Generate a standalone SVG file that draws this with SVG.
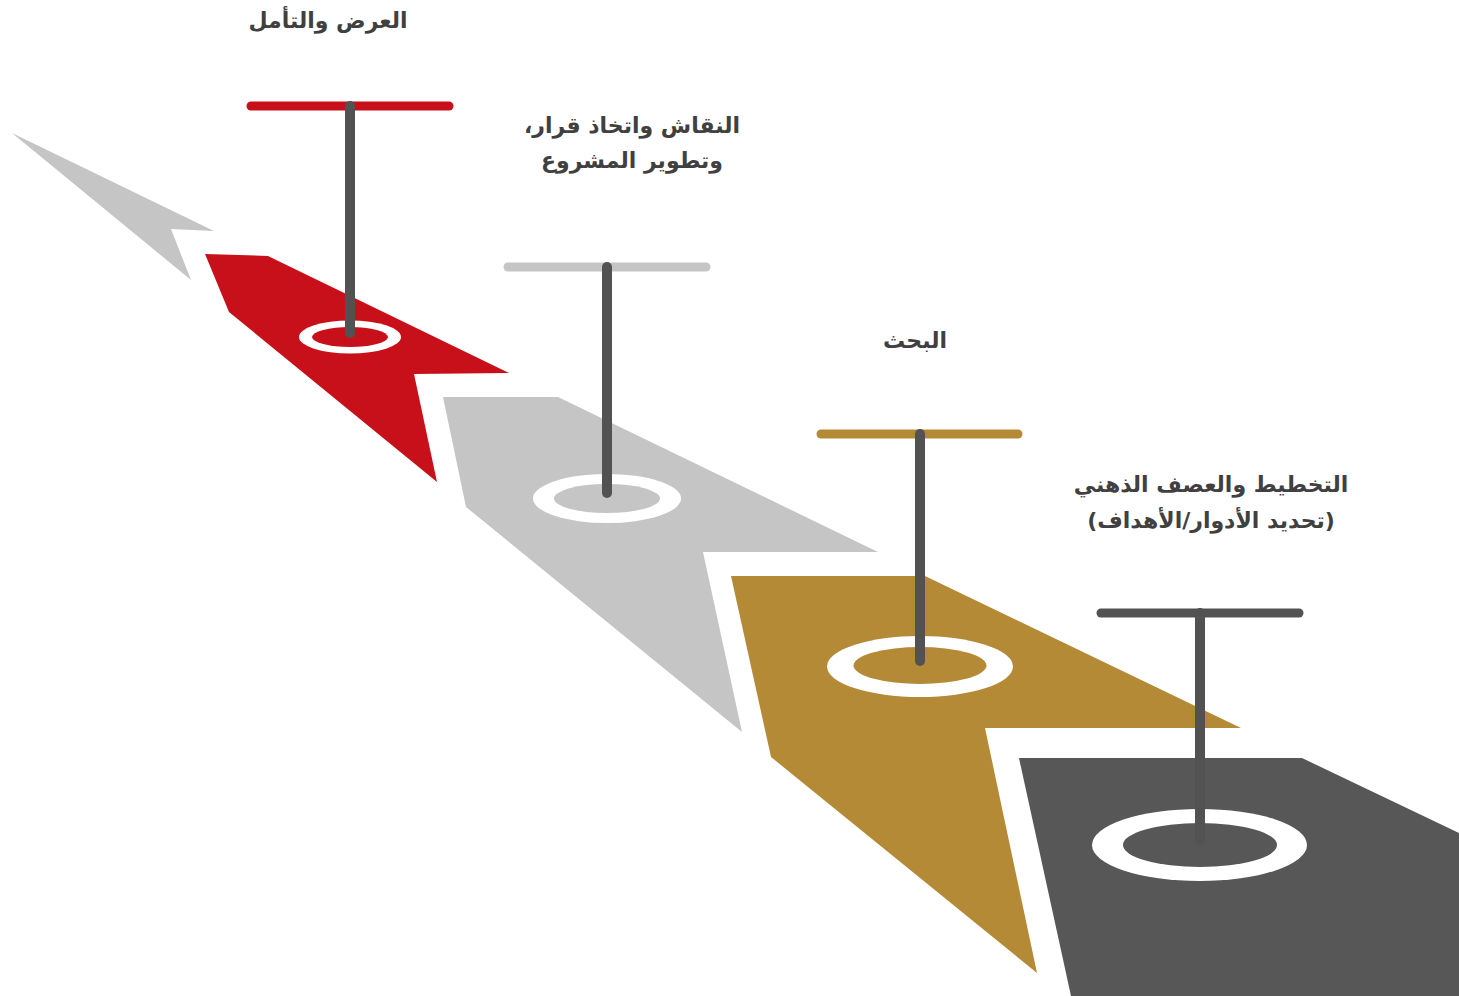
<svg xmlns="http://www.w3.org/2000/svg" width="1459" height="996" viewBox="0 0 1459 996">
<style>
.bar{stroke-width:9;stroke-linecap:round;fill:none}
.pole{stroke:#525252;stroke-width:10;stroke-linecap:round;fill:none}
.ring{fill:#fff}
.lbl{font-family:"DejaVu Sans","Noto Sans",sans-serif;font-weight:bold;font-size:22px;fill:#404040;text-anchor:middle}
</style>
<rect width="1459" height="996" fill="#fff"/>
<g id="tail">
<polygon points="12,133 214,231 171,229 191,280" fill="#c5c5c5"/>
</g>
<g id="step4">
<polygon points="205,254 268,256 509,373 414,374 437,482 229,312" fill="#c8101a"/>
<ellipse class="ring" cx="350" cy="337" rx="51" ry="16.5"/>
<ellipse cx="350" cy="337" rx="38" ry="10" fill="#c8101a"/>
<line class="bar" x1="251" y1="106" x2="449" y2="106" stroke="#c8101a"/>
<line class="pole" x1="350" y1="106" x2="350" y2="333"/>
<text class="lbl" x="328" y="28" direction="rtl">العرض والتأمل</text>
</g>
<g id="step3">
<polygon points="443,397 558,397 878,552 703,552 742,732 466,507" fill="#c5c5c5"/>
<ellipse class="ring" cx="607" cy="498.5" rx="74" ry="24.5"/>
<ellipse cx="607" cy="498.5" rx="53" ry="14.5" fill="#c5c5c5"/>
<line class="bar" x1="508" y1="267" x2="706" y2="267" stroke="#c5c5c5"/>
<line class="pole" x1="607" y1="267" x2="607" y2="493"/>
<text class="lbl" x="632" y="133" direction="rtl">النقاش واتخاذ قرار،</text>
<text class="lbl" x="632" y="168" direction="rtl">وتطوير المشروع</text>
</g>
<g id="step2">
<polygon points="731,576 925,576 1241,728 985,728 1037,973 771,757" fill="#b58a36"/>
<ellipse class="ring" cx="920" cy="666.5" rx="93" ry="30.5"/>
<ellipse cx="920" cy="665.5" rx="66.5" ry="18.5" fill="#b58a36"/>
<line class="bar" x1="821" y1="434" x2="1018" y2="434" stroke="#b58a36"/>
<line class="pole" x1="920" y1="434" x2="920" y2="661"/>
<text class="lbl" x="915" y="348" direction="rtl">البحث</text>
</g>
<g id="step1">
<polygon points="1019,758 1302,758 1459,833 1459,996 1071,996" fill="#575757"/>
<ellipse class="ring" cx="1199.5" cy="845" rx="107.5" ry="36"/>
<ellipse cx="1200" cy="845" rx="77" ry="22" fill="#575757"/>
<line class="bar" x1="1101" y1="613" x2="1299" y2="613" stroke="#525252"/>
<line class="pole" x1="1200" y1="613" x2="1200" y2="840" stroke="#4f4f4f"/>
<text class="lbl" x="1211" y="492" direction="rtl">التخطيط والعصف الذهني</text>
<text class="lbl" x="1211" y="528" direction="rtl">(تحديد الأدوار/الأهداف)</text>
</g>
<g id="connectors"></g>
</svg>
